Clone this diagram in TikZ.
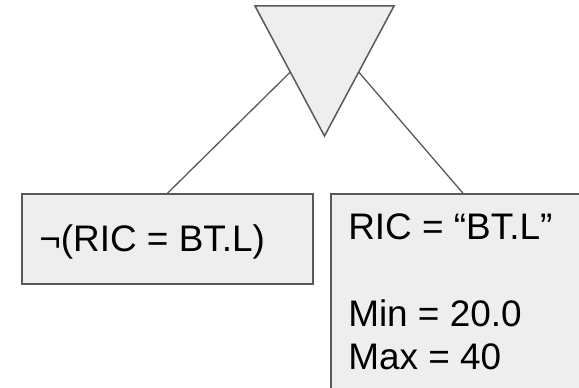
\documentclass[tikz,border=0pt]{standalone}
\usepackage{fontspec}
\setmainfont{Liberation Sans}
\usetikzlibrary{calc}
\definecolor{edgegray}{HTML}{595959}
\definecolor{fillgray}{HTML}{EEEEEE}
\tikzset{
  boxnode/.style={draw=edgegray, fill=fillgray, line width=1.5*0.75pt, rectangle, inner sep=0pt},
  conn/.style={draw=edgegray, line width=1.3*0.75pt},
  txt/.style={inner sep=0pt, font=\fontsize{27.7}{33}\selectfont, text=black},
}
\begin{document}
\begin{tikzpicture}[x=0.75pt,y=-0.75pt]
\useasboundingbox (0,0) rectangle (579,388);
\clip (0,0) rectangle (579,388);
% triangle
\coordinate (ta) at (255,6);
\coordinate (tb) at (394,6);
\coordinate (tc) at (324.5,136);
\coordinate (tl) at ($(ta)!0.508!(tc)$);
\coordinate (tr) at ($(tb)!0.508!(tc)$);
% boxes
\node[boxnode, minimum width=291*0.75pt, minimum height=90*0.75pt] (lbox) at (167.5,239) {};
\node[boxnode, minimum width=264*0.75pt, minimum height=240*0.75pt] (rbox) at (463,314) {};
% connectors
\draw[conn] (tl) -- (lbox.north);
\draw[conn] (tr) -- (rbox.north);
% triangle drawn on top
\filldraw[draw=edgegray, fill=fillgray, line width=1.5*0.75pt, line join=miter] (ta) -- (tb) -- (tc) -- cycle;
% texts
\node[txt, anchor=base west] (ltext) at (39,252) {¬(RIC = BT.L)};
\node[txt, anchor=base west] (rtext1) at (348,240) {RIC = “BT.L”};
\node[txt, anchor=base west] (rtext2) at (348,327) {Min = 20.0};
\node[txt, anchor=base west] (rtext3) at (348,370) {Max = 40};
\end{tikzpicture}
\end{document}
